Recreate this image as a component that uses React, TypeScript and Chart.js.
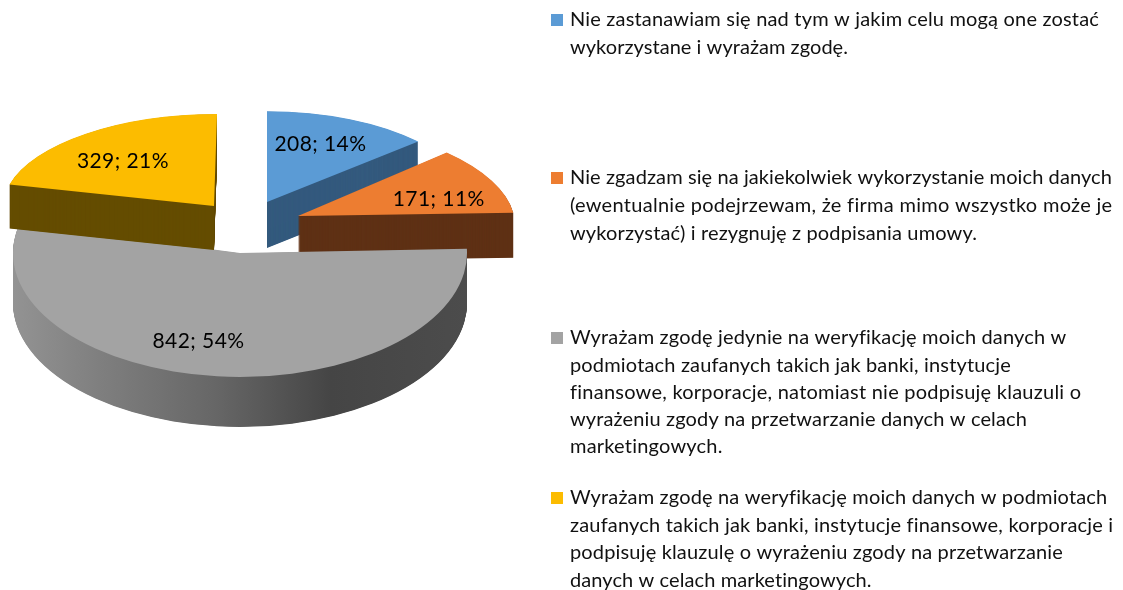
import React, { useEffect, useRef } from "react";
import { Chart, registerables } from "chart.js";

Chart.register(...registerables);

const categories = [
  "Nie zastanawiam się nad tym w jakim celu mogą one zostać wykorzystane i wyrażam zgodę.",
  "Nie zgadzam się na jakiekolwiek wykorzystanie moich danych (ewentualnie podejrzewam, że firma mimo wszystko może je wykorzystać) i rezygnuję z podpisania umowy.",
  "Wyrażam zgodę jedynie na weryfikację moich danych w podmiotach zaufanych takich jak banki, instytucje finansowe, korporacje, natomiast nie podpisuję klauzuli o wyrażeniu zgody na przetwarzanie danych w celach marketingowych.",
  "Wyrażam zgodę na weryfikację moich danych w podmiotach zaufanych takich jak banki, instytucje finansowe, korporacje i podpisuję klauzulę o wyrażeniu zgody na przetwarzanie danych w celach marketingowych.",
];
const values = [208, 171, 842, 329];
const percents = ["14%", "11%", "54%", "21%"];
const legendLines = [
  ["Nie zastanawiam się nad tym w jakim celu mogą one zostać", "wykorzystane i wyrażam zgodę."],
  [
    "Nie zgadzam się na jakiekolwiek wykorzystanie moich danych",
    "(ewentualnie podejrzewam, że firma mimo wszystko może je",
    "wykorzystać) i rezygnuję z podpisania umowy.",
  ],
  [
    "Wyrażam zgodę jedynie na weryfikację moich danych w",
    "podmiotach zaufanych takich jak banki, instytucje",
    "finansowe, korporacje, natomiast nie podpisuję klauzuli o",
    "wyrażeniu zgody na przetwarzanie danych w celach",
    "marketingowych.",
  ],
  [
    "Wyrażam zgodę na weryfikację moich danych w podmiotach",
    "zaufanych takich jak banki, instytucje finansowe, korporacje i",
    "podpisuję klauzulę o wyrażeniu zgody na przetwarzanie",
    "danych w celach marketingowych.",
  ],
];

const topColors = ["#5b9bd5", "#ed7d31", "#a3a3a3", "#fcbc00"];
const sideColors = ["#345a7e", "#5f3115", null, "#654d00"];

// explosion and perspective of each slice, relative to the pie's own centre
const sliceView = [
  { dx: 27, dy: -51, sx: 0.892, sy: 0.4, shear: 0, depth: 46, nudgeX: 12, nudgeY: -16 },
  { dx: 58, dy: -37, sx: 0.952, sy: 0.42, shear: 0.2, depth: 45, nudgeX: 44, nudgeY: 1 },
  { dx: 0, dy: 0, sx: 1, sy: 0.546, shear: 0, depth: 50, nudgeX: -30, nudgeY: 27 },
  { dx: -26, dy: -47, sx: 0.93, sy: 0.405, shear: -0.033, depth: 44, nudgeX: -27, nudgeY: -9 },
];
// legend block layout: first line centre, line step, right end of each line
const legendLayout = [
  { y: 20, step: 27.5, x: 570, ends: [1099, 848] },
  { y: 178, step: 28, x: 570, ends: [1112, 1112, 977] },
  { y: 338, step: 27.2, x: 570, ends: [1066, 1011, 1081, 1027, 723] },
  { y: 498, step: 27.4, x: 570, ends: [1107, 1113, 1063, 872] },
];

const FONT = "20px Lato, Carlito, sans-serif";
const LABEL_FONT = "21px Lato, Carlito, sans-serif";
const LABEL_WIDTH = 92;

function fitted(ctx: any, text: string, x: number, y: number, width: number) {
  ctx.letterSpacing = "0px";
  const w = ctx.measureText(text).width;
  ctx.letterSpacing = `${((width - w) / text.length).toFixed(3)}px`;
  ctx.fillText(text, x, y);
  ctx.letterSpacing = "0px";
}

const pie3d = {
  id: "pie3d",
  beforeDatasetsDraw(chart: any) {
    const ctx = chart.ctx as CanvasRenderingContext2D;
    const arcs = chart.getDatasetMeta(0).data as any[];
    arcs.forEach((arc, i) => {
      const v = sliceView[i];
      const base = arc.options;
      let side: any = sideColors[i];
      if (!side) {
        const g = ctx.createLinearGradient(arc.x - arc.outerRadius, 0, arc.x + arc.outerRadius, 0);
        g.addColorStop(0, "#939393");
        g.addColorStop(0.2, "#7e7e7e");
        g.addColorStop(0.45, "#666666");
        g.addColorStop(0.7, "#454545");
        g.addColorStop(1, "#4c4c4c");
        side = g;
      }
      const paint = (shift: number, color: any) => {
        ctx.save();
        ctx.translate(arc.x + v.dx, arc.y + v.dy + shift);
        ctx.transform(v.sx, 0, v.shear * v.sy, v.sy, 0, 0);
        ctx.translate(-arc.x, -arc.y);
        arc.options = { ...base, backgroundColor: color };
        arc.draw(ctx);
        arc.options = base;
        ctx.restore();
      };
      for (let d = v.depth; d > 0; d -= 0.5) paint(d, side);
      paint(0, base.backgroundColor);
    });
    return false;
  },
  afterDraw(chart: any) {
    const ctx = chart.ctx as CanvasRenderingContext2D;
    const arcs = chart.getDatasetMeta(0).data as any[];
    ctx.save();
    ctx.font = LABEL_FONT;
    ctx.fillStyle = "#000000";
    ctx.textBaseline = "middle";
    ctx.textAlign = "left";
    arcs.forEach((arc, i) => {
      const v = sliceView[i];
      const c = arc.getCenterPoint();
      const ly = (c.y - arc.y) * v.sy;
      const x = arc.x + v.dx + (c.x - arc.x) * v.sx + v.shear * ly + v.nudgeX;
      const y = arc.y + v.dy + ly + v.nudgeY;
      fitted(ctx, `${values[i]}; ${percents[i]}`, x - LABEL_WIDTH / 2, y, LABEL_WIDTH);
    });
    ctx.font = FONT;
    legendLines.forEach((lines, i) => {
      const l = legendLayout[i];
      ctx.fillStyle = topColors[i];
      ctx.fillRect(551, l.y - 6, 12, 12);
      ctx.fillStyle = "#111111";
      lines.forEach((t, j) => fitted(ctx, t, l.x, l.y + j * l.step, l.ends[j] - l.x));
    });
    ctx.restore();
  },
};

export default function App() {
  const ref = useRef<HTMLCanvasElement>(null);
  useEffect(() => {
    const chart = new Chart(ref.current!, {
      type: "pie",
      data: {
        labels: categories,
        datasets: [{ data: values, backgroundColor: topColors, borderWidth: 0 }],
      },
      options: {
        animation: false,
        responsive: false,
        layout: { padding: { left: 13, right: 656, top: 26, bottom: 110 } },
        plugins: { legend: { display: false }, tooltip: { enabled: false } },
      },
      plugins: [pie3d],
    } as any);
    return () => chart.destroy();
  }, []);
  return (
    <div style={{ position: "fixed", left: 0, top: 0, width: 1123, height: 590, background: "#fff" }}>
      <canvas ref={ref} width={1123} height={590} style={{ display: "block" }} />
    </div>
  );
}
